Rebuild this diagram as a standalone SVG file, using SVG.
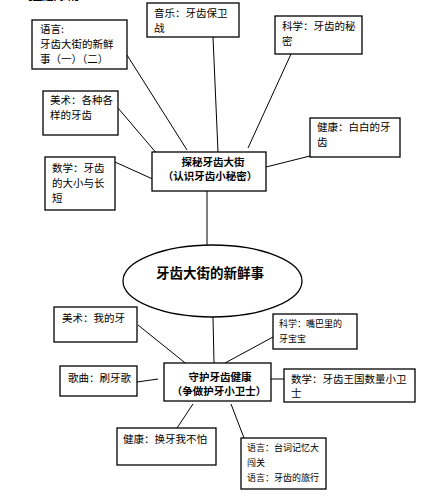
<svg xmlns="http://www.w3.org/2000/svg" width="432" height="497" viewBox="0 0 432 497">
<style>
.box{fill:#fff;stroke:#000;stroke-width:1.3}
.t{font-family:"Noto Sans CJK SC","Noto Sans",sans-serif;font-size:10.5px;fill:#000}
.s{font-size:9px}
.b{font-family:"Noto Sans CJK SC","Noto Sans",sans-serif;font-size:10.5px;font-weight:bold;fill:#000}
.c line{stroke:#000;stroke-width:1}
</style>
<rect width="432" height="497" fill="#fff"/>
<text class="b" x="22" y="-0.5">【主题网络】</text>
<g class="c" id="connectors">
<line x1="127" y1="55" x2="187" y2="150"/>
<line x1="118" y1="108" x2="158" y2="155"/>
<line x1="115" y1="162" x2="157" y2="181"/>
<line x1="213" y1="37" x2="218" y2="152"/>
<line x1="291" y1="54" x2="248" y2="148"/>
<line x1="310" y1="156" x2="266" y2="167"/>
<line x1="207" y1="191" x2="207" y2="245"/>
<line x1="213" y1="317" x2="214" y2="363"/>
<line x1="138" y1="325" x2="189" y2="366"/>
<line x1="137" y1="382" x2="158" y2="379"/>
<line x1="273" y1="337" x2="225" y2="363"/>
<line x1="257" y1="379" x2="292" y2="379"/>
<line x1="193" y1="404" x2="177" y2="428"/>
<line x1="231" y1="404" x2="244" y2="438"/>
</g>
<g id="n-yuyan1"><rect class="box" x="32" y="20" width="95" height="49"/>
<text class="t" x="40" y="33">语言:</text><text class="t" x="40" y="48">牙齿大街的新鲜</text><text class="t" x="40" y="63">事（一）（二）</text></g>
<g id="n-yinyue"><rect class="box" x="147" y="3" width="92" height="34"/>
<text class="t" x="154" y="17">音乐：牙齿保卫</text><text class="t" x="154" y="32">战</text></g>
<g id="n-kexue1"><rect class="box" x="275" y="16" width="87" height="38"/>
<text class="t" x="282" y="30">科学：牙齿的秘</text><text class="t" x="282" y="45">密</text></g>
<g id="n-meishu1"><rect class="box" x="43" y="91" width="75" height="44"/>
<text class="t" x="50" y="104">美术：各种各</text><text class="t" x="50" y="119">样的牙齿</text></g>
<g id="n-shuxue1"><rect class="box" x="45" y="157" width="70" height="53"/>
<text class="t" x="52" y="172">数学：牙齿</text><text class="t" x="52" y="187">的大小与长</text><text class="t" x="52" y="202">短</text></g>
<g id="n-jiankang1"><rect class="box" x="310" y="118" width="90" height="39"/>
<text class="t" x="317" y="131">健康：白白的牙</text><text class="t" x="317" y="146">齿</text></g>
<g id="n-tanmi"><rect class="box" x="152" y="152" width="114" height="39"/>
<text class="b" x="213" y="166" text-anchor="middle">探秘牙齿大街</text><text class="b" x="210" y="180" text-anchor="middle">（认识牙齿小秘密）</text></g>
<g id="n-center"><ellipse cx="212.5" cy="281" rx="89.5" ry="36" fill="#fff" stroke="#000" stroke-width="1.3"/>
<text x="210" y="278" text-anchor="middle" font-family="Noto Sans CJK SC,sans-serif" font-size="13.5" font-weight="bold">牙齿大街的新鲜事</text></g>
<g id="n-meishu2"><rect class="box" x="54" y="307" width="83" height="35"/>
<text class="t" x="62" y="322">美术：我的牙</text></g>
<g id="n-gequ"><rect class="box" x="60" y="366" width="77" height="30"/>
<text class="t" x="68" y="382">歌曲：刷牙歌</text></g>
<g id="n-kexue2"><rect class="box" x="273" y="314" width="84" height="35"/>
<text class="t s" x="279" y="327">科学：嘴巴里的</text><text class="t s" x="279" y="342">牙宝宝</text></g>
<g id="n-shouhu"><rect class="box" x="164" y="363" width="107" height="38"/>
<text class="b" x="220" y="381" text-anchor="middle">守护牙齿健康</text><text class="b" x="219" y="395" text-anchor="middle">（争做护牙小卫士）</text></g>
<g id="n-shuxue2"><rect class="box" x="284" y="369" width="131" height="33"/>
<text class="t" x="291" y="383">数学：牙齿王国数量小卫</text><text class="t" x="291" y="397">士</text></g>
<g id="n-jiankang2"><rect class="box" x="117" y="428" width="99" height="37"/>
<text class="t" x="123" y="443">健康：换牙我不怕</text></g>
<g id="n-yuyan2"><rect class="box" x="241" y="438" width="85" height="51"/>
<text class="t s" x="247" y="451">语言：台词记忆大</text><text class="t s" x="247" y="466">闯关</text><text class="t s" x="247" y="481">语言：牙齿的旅行</text></g>
</svg>
